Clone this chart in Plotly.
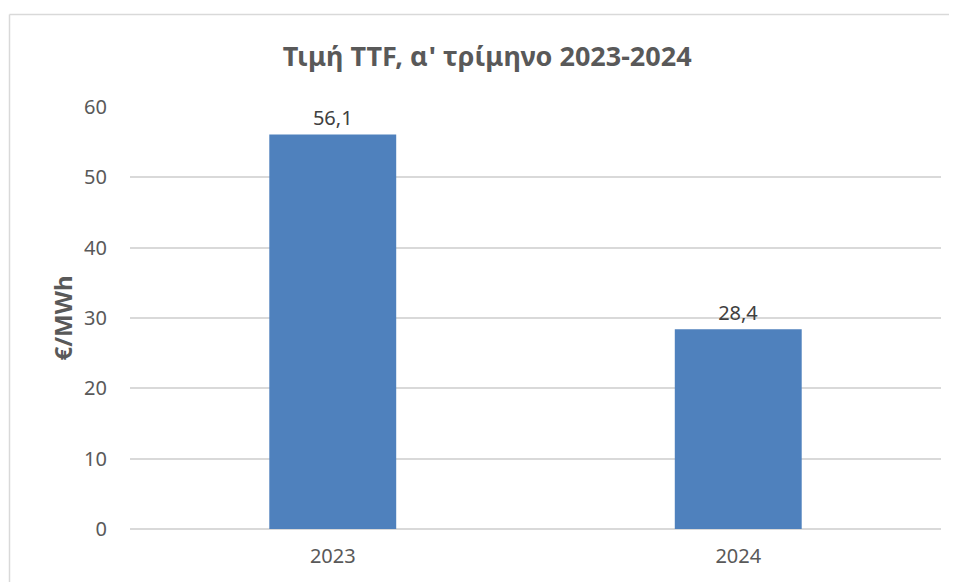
import plotly.graph_objects as go

categories = ["2023", "2024"]
values = [56.1, 28.4]
value_labels = ["56,1", "28,4"]
title_text = "Τιμή TTF, α' τρίμηνο 2023-2024"
y_title = "€/MWh"
y_ticks = [0, 10, 20, 30, 40, 50, 60]

FONT = "Noto Sans, Open Sans, sans-serif"

fig = go.Figure()
fig.add_trace(go.Bar(
    x=categories, y=values,
    text=value_labels, textposition="outside",
    textfont=dict(family=FONT, size=20, color="#404040"),
    marker=dict(color="#4F81BD", line=dict(width=0)),
    cliponaxis=False,
))

# page body has an 8px offset
OX, OY = 8, 8
W, H = 957 - OX, 582 - OY
L = 130 - OX
T = 107 - OY
R = W - (941 - OX)
B = H - (529 - OY)
pw = W - L - R
ph = H - T - B

def px_x(x):
    return (x - OX - L) / pw

def px_y(y):
    return (H - B - (y - OY)) / ph

fig.update_layout(
    width=W, height=H,
    margin=dict(l=L, r=R, t=T, b=B),
    paper_bgcolor="white", plot_bgcolor="white",
    bargap=0.687,
    showlegend=False,
    title=dict(text="<b>" + title_text + "</b>", x=0.505, xanchor="center",
               y=1 - (57 - OY) / H, yanchor="middle",
               font=dict(family=FONT, size=27, color="#595959")),
    xaxis=dict(showgrid=False, showline=False, ticks="", ticklabelstandoff=13,
               tickfont=dict(family=FONT, size=20, color="#595959")),
    yaxis=dict(range=[0, 60], tickvals=y_ticks, showgrid=True, gridcolor="#D9D9D9",
               gridwidth=1.5, zeroline=True, zerolinecolor="#D9D9D9", zerolinewidth=1.5,
               showline=False, ticks="", ticklabelstandoff=22,
               tickfont=dict(family=FONT, size=20, color="#595959"),
               title=dict(text="<b>" + y_title + "</b>", standoff=4,
                          font=dict(family=FONT, size=24, color="#595959"))),
    shapes=[
        dict(type="line", xref="paper", yref="paper",
             x0=px_x(9.5), x1=px_x(960), y0=px_y(14.5), y1=px_y(14.5),
             line=dict(color="#D9D9D9", width=1.5)),
        dict(type="line", xref="paper", yref="paper",
             x0=px_x(9.5), x1=px_x(9.5), y0=px_y(14.5), y1=px_y(590),
             line=dict(color="#D9D9D9", width=1.5)),
    ],
)

fig.write_html("out.html")
